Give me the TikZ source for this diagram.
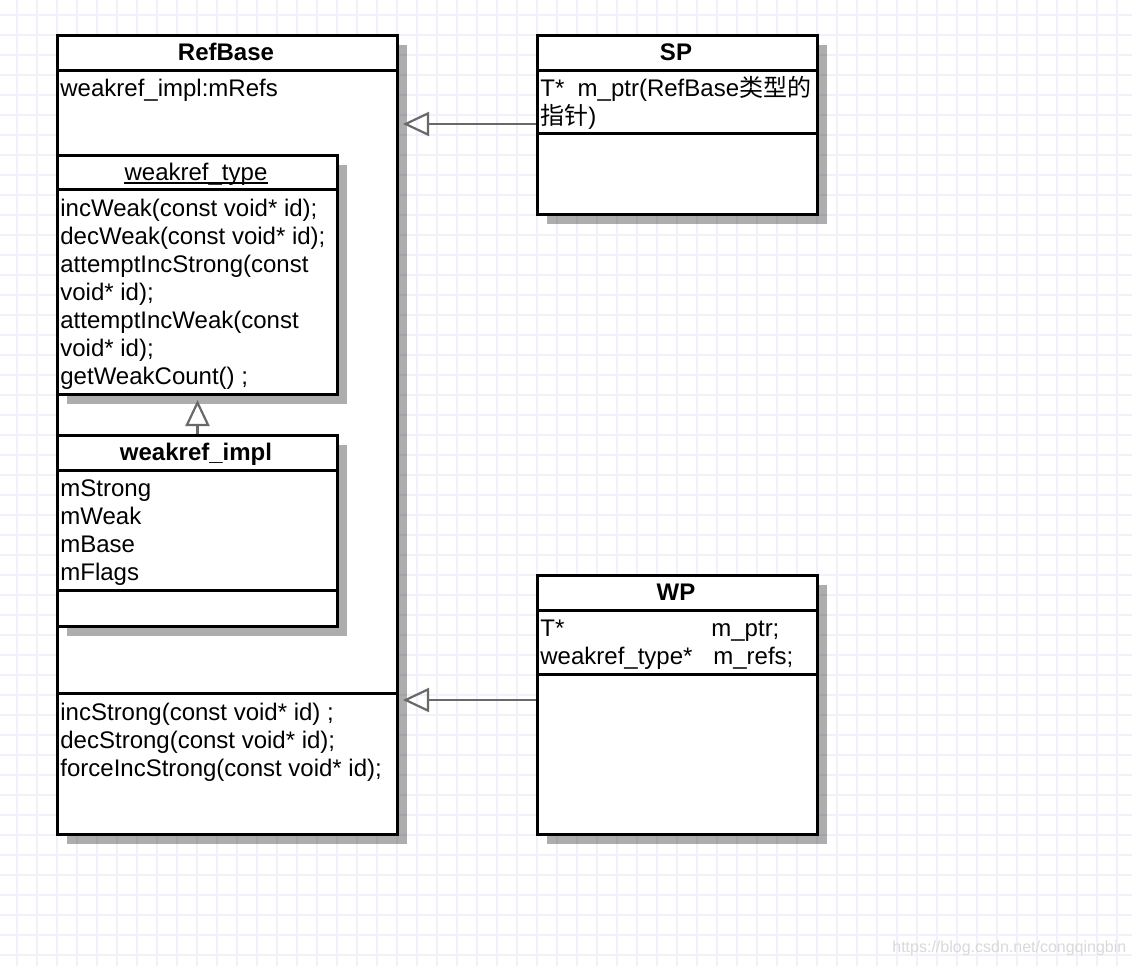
\documentclass[tikz,border=0pt]{standalone}
\usepackage{fontspec}
\setmainfont{Liberation Sans}
\newfontfamily\cjk{Noto Sans CJK SC}
\usepackage{tikz}
\usetikzlibrary{positioning}
\usetikzlibrary{arrows.meta}
\usetikzlibrary{shadows}

\definecolor{gridcol}{RGB}{241,241,252}
\definecolor{linkcol}{RGB}{105,105,105}

\begin{document}
\begin{tikzpicture}[x=0.5pt, y=-0.5pt,
  every node/.style={font=\fontsize{12}{14}\selectfont, inner sep=0pt},
  classbox/.style={draw, line width=1.5pt, fill=white, anchor=north west,
    drop shadow={shadow xshift=4.5pt, shadow yshift=-4.5pt, fill=black, opacity=0.32}},
  member/.style={anchor=base west},
  classname/.style={anchor=base, font=\bfseries\fontsize{12}{14}\selectfont},
  divider/.style={line width=1.5pt},
  inherit/.style={draw=linkcol, line width=1.1pt, shorten >=2pt,
    -{Triangle[open, length=13pt, width=12pt, line width=1.1pt]}}]

  % Fondo
  \useasboundingbox (0,0) rectangle (1132,966);
  \fill[white] (0,0) rectangle (1132,966);
  \foreach \gx in {17,37,...,1132} \draw[gridcol, line width=0.9pt] (\gx,0) -- (\gx,966);
  \foreach \gy in {15,35,...,966} \draw[gridcol, line width=0.9pt] (0,\gy) -- (1132,\gy);

  % Clases
  \node[classbox, minimum width=170pt, minimum height=399.5pt] (refbase) at (56,34) {};
  \node[classbox, minimum width=140pt, minimum height=119.5pt] (wrtype) at (56,154) {};
  \node[classbox, minimum width=140pt, minimum height=95.5pt] (wrimpl) at (56,434) {};
  \node[classbox, minimum width=140pt, minimum height=89.5pt] (sp) at (536,34) {};
  \node[classbox, minimum width=140pt, minimum height=129.5pt] (wp) at (536,574) {};

  % Compartimentos
  \draw[divider] (56,70) -- (396,70);
  \draw[divider] (56,693) -- (396,693);
  \draw[divider] (56,189) -- (336,189);
  \draw[divider] (56,470) -- (336,470);
  \draw[divider] (56,590) -- (336,590);
  \draw[divider] (536,70) -- (816,70);
  \draw[divider] (536,133) -- (816,133);
  \draw[divider] (536,610) -- (816,610);
  \draw[divider] (536,674) -- (816,674);

  % Nombres
  \node[classname] (refbasename) at (226,60.5) {RefBase};
  \node[anchor=base] (wrtypename) at (196,180.5) {weakref\_type};
  \draw[line width=0.9pt] ([yshift=-1.3pt]wrtypename.base west) -- ([yshift=-1.3pt]wrtypename.base east);
  \node[classname] (wrimplname) at (196,460.5) {weakref\_impl};
  \node[classname] (spname) at (676,60.5) {SP};
  \node[classname] (wpname) at (676,600.5) {WP};

  % Miembros
  \node[member] (mrefs) at (60,96.5) {weakref\_impl:mRefs};
  \foreach \txt [count=\i] in {{incWeak(const void* id);}, {decWeak(const void* id);},
      {attemptIncStrong(const}, {void* id);}, {attemptIncWeak(const}, {void* id);},
      {getWeakCount() ;}}
    \node[member] (wrtype-\i) at (60,188.5+28*\i) {\txt};
  \foreach \txt [count=\i] in {mStrong, mWeak, mBase, mFlags}
    \node[member] (wrimpl-\i) at (60,468.5+28*\i) {\txt};
  \foreach \txt [count=\i] in {{incStrong(const void* id) ;}, {decStrong(const void* id);},
      {forceIncStrong(const void* id);}}
    \node[member] (refbase-\i) at (60,692.5+28*\i) {\txt};
  \node[member] (spptr) at (540,96.5) {T*\ \ m\_ptr(RefBase{\cjk 类型的}};
  \node[member] (spptrb) at (540,124.5) {{\cjk 指针})};
  \node[member] (wptype) at (540,636.5) {T*};
  \node[member] (wpptr) at (711,636.5) {m\_ptr;};
  \node[member] (wpreftype) at (540,664.5) {weakref\_type*};
  \node[member] (wprefs) at (713,664.5) {m\_refs;};

  % Herencia
  \coordinate (spport) at (536,124);
  \coordinate (wpport) at (536,700);
  \draw[inherit] (spport) -- (spport -| refbase.east);
  \draw[inherit] (wpport) -- (wpport -| refbase.east);
  \draw[inherit] (wrimpl.north) -- (wrtype.south);

  \node[anchor=base west, text=black!15, font=\fontsize{8}{10}\selectfont] (wm) at (892,952)
    {https://blog.csdn.net/congqingbin};
\end{tikzpicture}
\end{document}
